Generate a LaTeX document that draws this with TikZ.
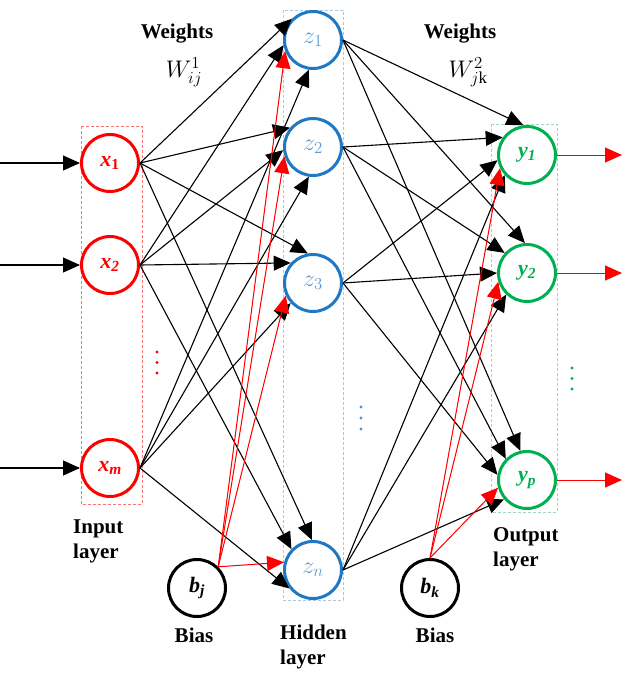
\RequirePackage{fix-cm}
\documentclass[tikz,border=0pt]{standalone}
\usepackage{fontspec}
\setmainfont{Liberation Serif}
\usetikzlibrary{arrows.meta}

\definecolor{inred}{HTML}{FF0000}
\definecolor{hidblue}{HTML}{1F78C4}
\definecolor{hidtext}{HTML}{5B9BD5}
\definecolor{outgreen}{HTML}{00B050}
\definecolor{hidbox}{HTML}{A9C8E4}
\definecolor{outbox}{HTML}{9ED8B6}

\tikzset{
  neuron/.style={circle, line width=3pt, minimum size=57pt, inner sep=0pt,
                 fill=white, font=\fontsize{22}{26}\selectfont\bfseries\itshape},
  inneuron/.style={neuron, draw=inred, text=inred},
  hidneuron/.style={neuron, draw=hidblue, text=hidtext, font=\fontsize{24}{28}\selectfont},
  outneuron/.style={neuron, draw=outgreen, text=outgreen},
  biasneuron/.style={neuron, draw=black, text=black},
  conn/.style={line width=1.1pt, -{Triangle[length=17pt,width=15pt]}},
  redconn/.style={conn, draw=inred, fill=inred, line width=1pt},
  layerbox/.style={line width=0.6pt, densely dashed},
  caption/.style={font=\fontsize{21}{25}\selectfont\bfseries, align=left, inner sep=0pt},
  wlabel/.style={font=\fontsize{24}{28}\selectfont, inner sep=0pt, text=black}
}

\begin{document}
\begin{tikzpicture}[x=1pt,y=-1pt]
  \useasboundingbox (0,0) rectangle (622,673);

  % layer frames
  \draw[layerbox, draw=inred!55] (81,126) rectangle (142,504);
  \draw[layerbox, draw=hidbox] (283,10) rectangle (343,600);
  \draw[layerbox, draw=outbox] (491,124) rectangle (557,512);

  % input layer
  \node[inneuron] (x1) at (110,163) {x\textsubscript{\upshape 1}};
  \node[inneuron] (x2) at (110,265) {x\textsubscript{2}};
  \node[inneuron] (xm) at (110,468) {x\textsubscript{m}};

  % hidden layer
  \node[hidneuron] (z1) at (313,40)  {$z_1$};
  \node[hidneuron] (z2) at (313,147) {$z_2$};
  \node[hidneuron] (z3) at (313,283) {$z_3$};
  \node[hidneuron] (zn) at (313,570) {$z_n$};

  % output layer
  \node[outneuron] (y1) at (527,155) {y\textsubscript{1}};
  \node[outneuron] (y2) at (527,273) {y\textsubscript{2}};
  \node[outneuron] (yp) at (527,480) {y\textsubscript{p}};

  % bias units
  \node[biasneuron] (bj) at (197,588) {b\textsubscript{j}};
  \node[biasneuron] (bk) at (430,588) {b\textsubscript{k}};

  % vertical ellipses
  \foreach \yy in {352,362.5,373} \fill[inred] (157,\yy) circle (1.7);
  \foreach \yy in {407,418,429} \fill[hidblue!80] (361,\yy) circle (1.7);
  \foreach \yy in {368,378.5,389} \fill[outgreen] (572,\yy) circle (1.7);

  % inputs entering and outputs leaving
  \coordinate (i1) at (0,163);
  \coordinate (i2) at (0,265);
  \coordinate (im) at (0,468);
  \coordinate (o1) at (622,155);
  \coordinate (o2) at (622,273);
  \coordinate (op) at (622,480);
  \draw[conn] (i1) -- (x1);
  \draw[conn] (i2) -- (x2);
  \draw[conn] (im) -- (xm);
  \draw[redconn] (y1) -- (o1);
  \draw[redconn] (y2) -- (o2);
  \draw[redconn] (yp) -- (op);

  % input -> hidden weights
  \foreach \s/\t/\a in {x1/z1/135, x2/z1/190, xm/z1/262,
                        x1/z2/140, x2/z2/186, xm/z2/262,
                        x1/z3/100, x2/z3/138, xm/z3/222,
                        x1/zn/92,  x2/zn/136, xm/zn/218}
    \draw[conn] (\s.east) -- (\t.\a);

  % hidden -> output weights
  \foreach \s/\t/\a in {z1/y1/97,  z2/y1/144, z3/y1/190, zn/y1/222,
                        z1/y2/94,  z2/y2/138, z3/y2/180, zn/y2/226,
                        z1/yp/103, z2/yp/135, z3/yp/170, zn/yp/220}
    \draw[conn] (\s.east) -- (\t.\a);

  % bias connections
  \foreach \t/\a in {z1/202, z2/198, z3/205, zn/165}
    \draw[redconn] (bj.45) -- (\t.\a);
  \foreach \t/\a in {y1/206, y2/197, yp/195}
    \draw[redconn] (bk.north) -- (\t.\a);

  % captions
  \node[caption] (wt1) at (177,34) {Weights};
  \node[caption] (wt2) at (460,34) {Weights};
  \node[wlabel] (w1) at (184,72) {$W^{1}_{ij}$};
  \node[wlabel] (w2) at (468,72) {$W^{2}_{j\mathrm{k}}$};
  \node[caption, anchor=north west] (lin) at (73,520) {Input\\layer};
  \node[caption, anchor=north west] (lhid) at (280,625) {Hidden\\layer};
  \node[caption, anchor=north west] (lout) at (493,527) {Output\\layer};
  \node[caption] (lbj) at (194,635) {Bias};
  \node[caption] (lbk) at (435,635) {Bias};
\end{tikzpicture}
\end{document}
